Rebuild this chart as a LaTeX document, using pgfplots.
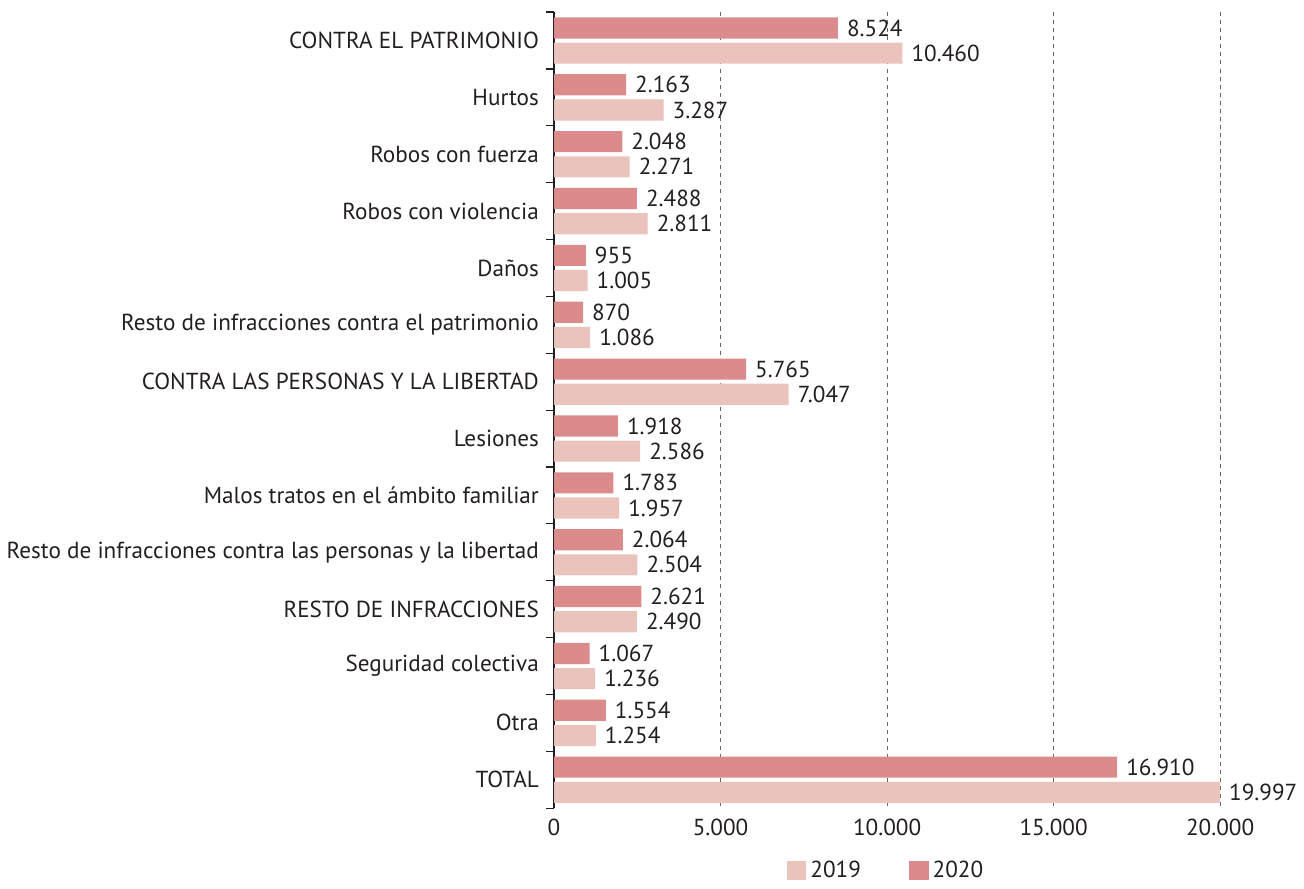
\documentclass[border=0pt]{standalone}
\usepackage{pgfplots}
\pgfplotsset{compat=1.18}
\usepackage{fontspec}
\setmainfont{PT Sans}
\definecolor{c19}{HTML}{EBC3BD}
\definecolor{c20}{HTML}{DB8B8B}
\definecolor{txt}{HTML}{231F20}
\begin{document}
\begin{tikzpicture}
\begin{axis}[
  scale only axis,
  width=330.5pt, height=395pt,
  xbar, bar width=10.5pt,
  y dir=reverse,
  ymin=-0.5, ymax=13.5,
  xmin=0, xmax=20000,
  ytick={0,...,13},
  yticklabels={CONTRA EL PATRIMONIO,Hurtos,Robos con fuerza,Robos con violencia,Daños,Resto de infracciones contra el patrimonio,CONTRA LAS PERSONAS Y LA LIBERTAD,Lesiones,Malos tratos en el ámbito familiar,Resto de infracciones contra las personas y la libertad,RESTO DE INFRACCIONES,Seguridad colectiva,Otra,TOTAL},
  minor ytick={-0.5,0.5,...,13.5},
  major tick length=0pt,
  minor tick length=4pt,
  tick align=outside,
  minor tick style={txt, line width=0.6pt},
  xtick={0,5000,...,20000},
  scaled x ticks=false,
  xmajorgrids,
  major grid style={gray!80!black, dash pattern=on 2pt off 2pt, line width=0.4pt},
  axis x line*=bottom,
  axis y line*=left,
  x axis line style={draw=none},
  y axis line style={txt, line width=0.6pt},
  tick label style={font=\fontsize{11.5}{13}\selectfont, text=txt},
  yticklabel style={xshift=-4pt},
  xticklabel style={yshift=-2pt},
  /pgf/number format/.cd, 1000 sep={.}, assume math mode=true,
  /pgfplots/.cd,
  nodes near coords,
  nodes near coords style={font=\fontsize{11.5}{13}\selectfont, text=txt, anchor=west, xshift=1pt},
  legend style={at={(0.5,0)}, anchor=north, yshift=-22pt, draw=none, legend columns=2,
    font=\fontsize{11.5}{13}\selectfont, text=txt,
    /tikz/every even column/.append style={column sep=22pt}},
  legend image code/.code={\fill[#1] (0pt,-4.8pt) rectangle (9.6pt,4.8pt);},
]
\addplot[fill=c19, draw=none, bar shift=-6.25pt] coordinates {
(10460,0) (3287,1) (2271,2) (2811,3) (1005,4) (1086,5) (7047,6) (2586,7) (1957,8) (2504,9) (2490,10) (1236,11) (1254,12) (19997,13)};
\addplot[fill=c20, draw=none, bar shift=6.25pt] coordinates {
(8524,0) (2163,1) (2048,2) (2488,3) (955,4) (870,5) (5765,6) (1918,7) (1783,8) (2064,9) (2621,10) (1067,11) (1554,12) (16910,13)};
\legend{2019,2020}
\end{axis}
\path ([yshift=6pt]current axis.north);
\end{tikzpicture}
\end{document}
